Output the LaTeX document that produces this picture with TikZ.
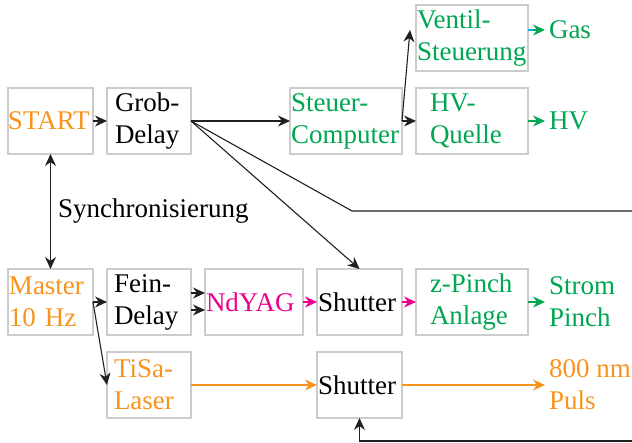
\documentclass[tikz,border=0pt]{standalone}
\usepackage{fontspec}
\setmainfont{Liberation Serif}
\usetikzlibrary{calc, positioning}
\usetikzlibrary{arrows.meta}
\definecolor{orgA}{RGB}{247,148,29}
\definecolor{grnA}{RGB}{0,166,81}
\definecolor{magA}{RGB}{236,0,140}
\definecolor{cynA}{RGB}{0,174,239}
\definecolor{lineA}{RGB}{35,31,32}
\definecolor{boxA}{RGB}{204,204,204}

\begin{document}
\begin{tikzpicture}[x=1pt, y=-1pt,
  font=\fontsize{27}{32}\selectfont,
  box/.style={draw=boxA, line width=1.2pt, minimum height=66pt, inner ysep=0pt,
    outer sep=0pt, anchor=north west, align=left},
  sig/.style={line width=1.1pt, draw=lineA, -{Stealth[length=12pt, width=11pt]}},
  wire/.style={line width=1.1pt, draw=lineA},
  outtxt/.style={inner xsep=4pt, inner ysep=0pt, outer sep=0pt, align=left}
]
\useasboundingbox (0,0) rectangle (632,443);

% obere Reihe
\node[box, text width=85pt, inner xsep=0pt, text=orgA] (start) at (8,88) {START};
\node[box, text width=68pt, inner xsep=8pt, right=14pt of start] (grob) {Grob-\\Delay};
\node[box, text width=110pt, inner xsep=1pt, text=grnA, right=99pt of grob] (steuer) {Steuer-\\Computer};
\node[box, text width=84pt, inner xsep=14pt, text=grnA, right=14pt of steuer] (hvq) {HV-\\Quelle};
\node[box, text width=110pt, inner xsep=1pt, text=grnA, above=17pt of hvq] (ventil) {Ventil-\\Steuerung};
\node[outtxt, text=grnA, anchor=west] (gas) at ($(ventil.east)+(17,-8)$) {Gas};
\node[outtxt, text=grnA, right=17pt of hvq] (hv) {HV};

% untere Reihe
\node[box, text width=83pt, inner xsep=1pt, text=orgA, below=115pt of start] (master) {Master\\10 Hz};
\node[box, text width=70pt, inner xsep=7pt, right=14pt of master] (fein) {Fein-\\Delay};
\node[box, text width=96pt, inner xsep=1pt, text=magA, right=14pt of fein] (ndyag) {NdYAG};
\node[box, text width=83pt, inner xsep=1pt, right=14pt of ndyag] (shutA) {Shutter};
\node[box, text width=84pt, inner xsep=14pt, text=grnA, right=14pt of shutA] (zpinch) {z-Pinch\\Anlage};
\node[outtxt, text=grnA, right=17pt of zpinch] (strom) {Strom\\Pinch};
\node[box, text width=70pt, inner xsep=7pt, text=orgA, below=17pt of fein] (tisa) {TiSa-\\Laser};
\node[box, text width=83pt, inner xsep=1pt, below=17pt of shutA] (shutB) {Shutter};
\node[outtxt, text=orgA, right=143pt of shutB] (puls) {800 nm\\Puls};

\node[anchor=base west, inner sep=0pt] (sync) at (58,218) {Synchronisierung};

\coordinate (knick) at (352,211);
\coordinate (rausA) at (640,211);
\coordinate (rausB) at (640,441);

% Trigger
\draw[sig] (start) -- (grob);
\draw[sig, {Stealth[length=12pt, width=11pt]}-{Stealth[length=12pt, width=11pt]}] (start) -- (master);
\draw[sig] (grob.east) -- (steuer.west);
\draw[sig] (grob.east) -- (shutA.north);
\draw[wire] (grob.east) -- (knick) -- (rausA);
\draw[sig] (rausB) -- (rausB -| shutB.south) -- (shutB.south);
\draw[sig] (steuer.east) -- ($(ventil.west)+(-6,-8)$);
\draw[sig] (steuer.east) -- (hvq.west);
\draw[sig] (master.east) -- (fein.west);
\draw[sig] (master.east) -- (tisa.west);
\draw[sig] ($(fein.east)+(0,-9)$) -- ($(ndyag.west)+(0,-9)$);
\draw[sig] ($(fein.east)+(0,8)$) -- ($(ndyag.west)+(0,8)$);

% Strahl und Ausgaenge
\draw[sig, magA] (ndyag) -- (shutA);
\draw[sig, magA] (shutA) -- (zpinch);
\draw[sig, grnA] (zpinch.east) -- (strom.west);
\draw[sig, grnA] (hvq.east) -- (hv.west);
\draw[sig, grnA] ($(ventil.east)+(0,-8)$) -- (gas.west);
\draw[wire, cynA] ($(ventil.east)+(0,-8)$) -- ++(5,0);
\draw[sig, orgA] (tisa) -- (shutB);
\draw[sig, orgA] (shutB.east) -- (puls.west);
\end{tikzpicture}
\end{document}
